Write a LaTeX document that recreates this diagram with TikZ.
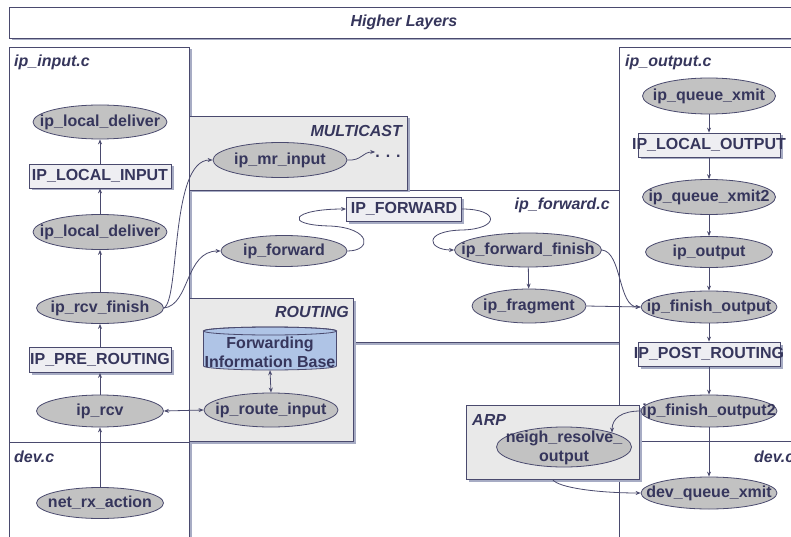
\documentclass[tikz,border=0pt]{standalone}
\usepackage{fontspec}
\setmainfont{Liberation Sans}
\usetikzlibrary{shapes.geometric,arrows.meta,shadows}
\definecolor{txtc}{HTML}{36365C}
\definecolor{linec}{HTML}{4A4A6E}
\definecolor{ellc}{HTML}{C2C2C2}
\definecolor{areac}{HTML}{E9E9E9}
\definecolor{rectc}{HTML}{EEEEF2}
\definecolor{shadc}{HTML}{A7ACC4}
\definecolor{fibc}{HTML}{AFC4E6}
\newcommand\zb[1]{\makebox[0pt]{#1}}
\begin{document}
\begin{tikzpicture}[x=1pt,y=-1pt,
  font=\fontsize{16}{19}\selectfont\bfseries, text=txtc,
  ell/.style={ellipse, draw=linec, fill=ellc, line width=0.8pt, inner sep=0pt},
  hookbox/.style={rectangle, draw=linec, fill=rectc, line width=0.8pt, inner sep=0pt,
    minimum width=142pt, minimum height=24pt,
    drop shadow={shadow xshift=2.5pt, shadow yshift=-2.5pt, fill=shadc, opacity=1}},
  areabox/.style={draw=linec, line width=0.8pt},
  shadowbox/.style={fill=shadc},
  ttl/.style={font=\fontsize{16}{19}\selectfont\bfseries\itshape, inner sep=0pt},
  arr/.style={draw=linec, line width=0.8pt, -{Stealth[length=5pt,width=4pt]}},
  darr/.style={draw=linec, line width=0.8pt, {Stealth[length=5pt,width=4pt]}-{Stealth[length=5pt,width=4pt]}}
]
\useasboundingbox (0,0) rectangle (791,537);
\clip (0,0) rectangle (791,537);
\fill[white] (0,0) rectangle (791,537);

% top box
\fill[shadowbox] (11.5,9.5) rectangle (802.5,40.5);
\filldraw[areabox, fill=white] (9,7) rectangle (800,38);
% ip_forward.c area
\fill[shadowbox] (191.5,192.5) rectangle (621.5,344.5);
\filldraw[areabox, fill=white] (189,190) rectangle (619,342);
% ip_input.c area
\fill[shadowbox] (11.5,49.5) rectangle (191.5,570);
\filldraw[areabox, fill=white] (9,47) rectangle (189,570);
% ip_output.c area
\fill[shadowbox] (621.5,49.5) rectangle (820,570);
\filldraw[areabox, fill=white] (619,47) rectangle (820,570);
% multicast
\fill[shadowbox] (191.5,118.5) rectangle (409.5,192.5);
\filldraw[areabox, fill=areac] (189,116) rectangle (407,190);
% routing
\fill[shadowbox] (191.5,300.5) rectangle (355.5,443.5);
\filldraw[areabox, fill=areac] (189,298) rectangle (353,441);
% dev.c separators
\draw[areabox] (9,442) -- (189,442);
\draw[areabox] (639,441) -- (820,441);
% ARP
\node[areabox, fill=areac, rectangle, inner sep=0pt, minimum width=173pt, minimum height=74pt,
  drop shadow={shadow xshift=2.5pt, shadow yshift=-2.5pt, fill=shadc, opacity=1}] (arp) at (552.5,442) {};

% titles
\node[ttl] (tHL) at (404,22) {Higher Layers};
\node[ttl, anchor=west] (tIn) at (14,62) {ip\_input.c};
\node[ttl, anchor=west] (tOut) at (625,62) {ip\_output.c};
\node[ttl, anchor=east] (tMC) at (402,131) {MULTICAST};
\node[ttl, anchor=east] (tFw) at (610,205) {ip\_forward.c};
\node[ttl, anchor=east] (tRt) at (349,312) {ROUTING};
\node[ttl, anchor=west] (tArp) at (472,420) {ARP};
\node[ttl, anchor=west] (tDevL) at (14,457) {dev.c};
\node[ttl, anchor=west] (tDevR) at (754,457) {dev.c};

% FIB cylinder
\filldraw[draw=linec, fill=fibc, line width=0.8pt]
  (203.5,331) -- (203.5,366) arc[start angle=180, end angle=0, x radius=66.5, y radius=4]
  -- (336.5,331) arc[start angle=0, end angle=-180, x radius=66.5, y radius=4] -- cycle;
\draw[draw=linec, line width=0.8pt] (270,331) ellipse [x radius=66.5, y radius=4];
\node[rectangle, inner sep=0pt, minimum width=133pt, minimum height=43pt,
  label={[align=center, yshift=-3.5pt]center:Forwarding\\Information Base}] (fib) at (270,348.5) {};

% left column
\node[ell, minimum width=134pt, minimum height=34pt] (ld1) at (100,122) {\zb{ip\_local\_deliver}};
\node[hookbox] (lin) at (100,176) {\zb{IP\_LOCAL\_INPUT}};
\node[ell, minimum width=134pt, minimum height=35pt] (ld2) at (100,232) {\zb{ip\_local\_deliver}};
\node[ell, minimum width=127pt, minimum height=31pt] (rf) at (100,308) {\zb{ip\_rcv\_finish}};
\node[hookbox, minimum height=25pt] (pre) at (100,360) {\zb{IP\_PRE\_ROUTING}};
\node[ell, minimum width=127pt, minimum height=32pt] (rcv) at (100,411) {\zb{ip\_rcv}};
\node[ell, minimum width=127pt, minimum height=31pt] (nrx) at (100,503) {\zb{net\_rx\_action}};

% middle
\node[ell, minimum width=134pt, minimum height=35pt] (mr) at (280,160) {\zb{ip\_mr\_input}};
\node[inner sep=0pt, text height=11.5pt, text depth=0pt] (dots) at (388,152) {. . .};
\node[ell, minimum width=126pt, minimum height=31pt] (fw) at (284,251) {\zb{ip\_forward}};
\node[hookbox, minimum width=115pt] (fwd) at (404,209) {\zb{IP\_FORWARD}};
\node[ell, minimum width=147pt, minimum height=34pt] (fwf) at (528,250) {\zb{ip\_forward\_finish}};
\node[ell, minimum width=114pt, minimum height=34pt] (frag) at (529,306) {\zb{ip\_fragment}};
\node[ell, minimum width=134pt, minimum height=34pt] (ri) at (271,410) {\zb{ip\_route\_input}};
\node[ell, minimum width=135pt, minimum height=40pt,
  label={[align=center, yshift=-1pt]center:neigh\_resolve\_\\output}] (nro) at (564,447) {};

% right column
\node[ell, minimum width=133pt, minimum height=36pt] (qx) at (709,96) {\zb{ip\_queue\_xmit}};
\node[hookbox] (lout) at (709,145) {\zb{IP\_LOCAL\_OUTPUT}};
\node[ell, minimum width=133pt, minimum height=35pt] (qx2) at (709,197) {\zb{ip\_queue\_xmit2}};
\node[ell, minimum width=127pt, minimum height=31pt] (out) at (709,252) {\zb{ip\_output}};
\node[ell, minimum width=136pt, minimum height=32pt] (fo) at (709,307) {\zb{ip\_finish\_output}};
\node[hookbox] (post) at (709,354) {\zb{IP\_POST\_ROUTING}};
\node[ell, minimum width=136pt, minimum height=32pt] (fo2) at (709,411) {\zb{ip\_finish\_output2}};
\node[ell, minimum width=136pt, minimum height=32pt] (dqx) at (709,493) {\zb{dev\_queue\_xmit}};

% left column connectors
\draw[arr] (nrx) -- (rcv);
\draw[arr] (rcv) -- (pre);
\draw[arr] (pre) -- (rf);
\draw[arr] (rf) -- (ld2);
\draw[arr] (ld2) -- (lin);
\draw[arr] (lin) -- (ld1);
\draw[darr] (rcv.east) -- (ri.west);
\draw[darr] (fib.south) -- (ri.north);
\draw[arr] (rf.east) .. controls (180,300) and (170,160) .. (mr.west);
\draw[arr] (rf.east) .. controls (190,305) and (185,251) .. (fw.west);
\draw[arr] (mr.east) .. controls (362,161) and (362,152) .. (dots.west);
\draw[arr] (fw.east) .. controls (372,251) and (372,228) .. (330,226)
  .. controls (282,225) and (292,209) .. (fwd.west);
\draw[arr] (fwd.east) .. controls (500,209) and (500,229) .. (462,230)
  .. controls (422,231) and (428,250) .. (fwf.west);
\draw[arr] (fwf) -- (frag);
\draw[arr] (fwf.east) .. controls (622,252) and (618,307) .. (fo.west);
\draw[arr] (frag.east) -- (fo.west);

% right column connectors
\draw[arr] (qx) -- (lout);
\draw[arr] (lout) -- (qx2);
\draw[arr] (qx2) -- (out);
\draw[arr] (out) -- (fo);
\draw[arr] (fo) -- (post);
\draw[arr] (post) -- (fo2);
\draw[arr] (fo2) -- (dqx);
\draw[arr] (fo2.west) .. controls (622,411) and (612,418) .. (nro.north east);
\draw[arr] (arp.south) .. controls (558,488) and (600,493) .. (dqx.west);
\end{tikzpicture}
\end{document}
